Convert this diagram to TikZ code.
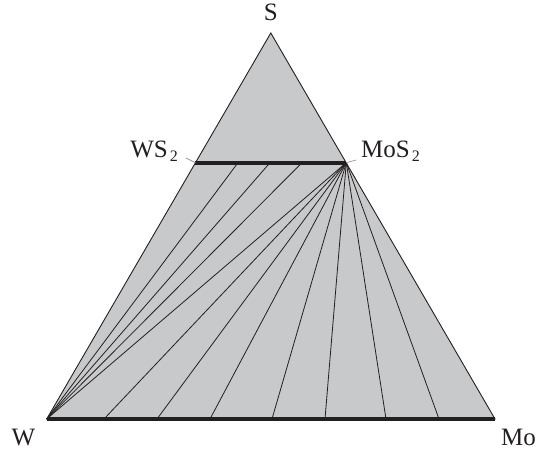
\documentclass[tikz,border=0pt]{standalone}
\usepackage{fontspec}
\setmainfont{Liberation Serif}
\definecolor{phasefill}{RGB}{200,201,203}
\definecolor{ink}{RGB}{35,31,32}
\definecolor{leader}{RGB}{150,150,150}
\newcommand{\subtwo}{\kern2pt\raisebox{-4pt}{\fontsize{16}{16}\selectfont 2}}
\begin{document}
\begin{tikzpicture}[x=1pt,y=-1pt,
  tie/.style={draw=ink,line width=0.8pt},
  solidsol/.style={draw=ink,line width=3.8pt},
  edge/.style={draw=ink,line width=0.9pt,line join=miter},
  leadline/.style={draw=leader,line width=0.7pt},
  lbl/.style={inner sep=0pt,font=\fontsize{25}{25}\selectfont,text=ink}]
\useasboundingbox (0,0) rectangle (542,452);
% corners of the composition triangle
\coordinate (W) at (46.7,419);
\coordinate (Mo) at (495,419);
\coordinate (S) at (270.8,33);
\coordinate (WS2) at (195.4,162.7);
\coordinate (MoS2) at (346.3,162.7);
% tie-line ends on the sulfide solid solution
\coordinate (t1) at (238,162.7);
\coordinate (t2) at (270,162.7);
\coordinate (t3) at (302,162.7);
% tie-line ends on the metal solid solution
\foreach \i/\x in {1/104,2/157,3/210,4/272,5/325,6/386,7/439}
  \coordinate (b\i) at (\x,419);
% leader ends
\coordinate (lws) at (186,158);
\coordinate (lmos) at (356,160);

\fill[phasefill] (W) -- (Mo) -- (S) -- cycle;
% tie lines from W to the sulfide
\foreach \t in {t1,t2,t3,MoS2}
  \draw[tie] (W) -- (\t);
% tie lines from MoS2 to the metal
\foreach \i in {1,...,7}
  \draw[tie] (MoS2) -- (b\i);
\draw[edge] (W) -- (Mo) -- (S) -- cycle;
\draw[solidsol] (WS2) -- (MoS2);
\draw[solidsol] (W) -- (Mo);
\draw[leadline] (lws) -- (WS2);
\draw[leadline] (MoS2) -- (lmos);

% labels
\node[lbl,anchor=base] (Slbl) at (270.8,21) {S};
\node[lbl,anchor=base] (Wlbl) at (23.5,445) {W};
\node[lbl,anchor=base west] (Molbl) at (501,445) {Mo};
\node[lbl,anchor=base east] (WSlbl) at (178,158) {WS\subtwo};
\node[lbl,anchor=base west] (MoSlbl) at (361,158) {MoS\subtwo};
\end{tikzpicture}
\end{document}
